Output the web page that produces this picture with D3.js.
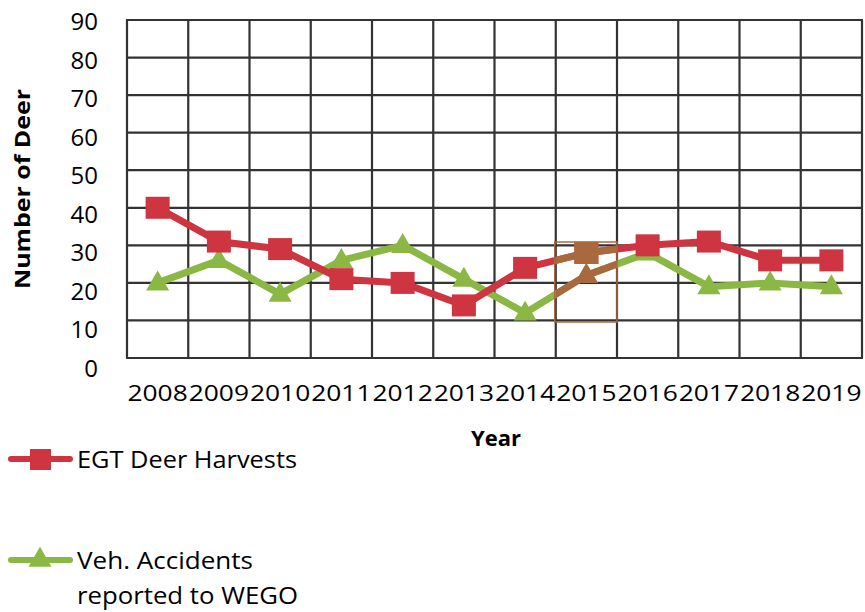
<!DOCTYPE html>
<html><head><meta charset="utf-8">
<script src="https://cdn.jsdelivr.net/npm/d3@7"></script>
<style>body{margin:0;background:#fff}</style>
</head><body>
<script>
const years = ["2008","2009","2010","2011","2012","2013","2014","2015","2016","2017","2018","2019"];
const harvests = [40, 31, 29, 21, 20, 14, 24, 28, 30, 31, 26, 26];
const accidents = [20, 26, 17, 26, 30, 21, 12, 22, 28, 19, 20, 19];
const yTicks = [0,10,20,30,40,50,60,70,80,90];
const seriesNames = ["EGT Deer Harvests", "Veh. Accidents", "reported to WEGO"];

const W = 865, H = 612;
const svg = d3.select("body").append("svg").attr("width", W).attr("height", H);
const font = "'Open Sans', sans-serif";

const x = d3.scaleBand().domain(years).range([127, 862]);
const y = d3.scaleLinear().domain([0, 90]).range([358, 20]);
const yLab = d3.scaleLinear().domain([0, 90]).range([377, 30]);
const cx = d => x(d) + x.bandwidth() / 2;

const red = "#cf3441", green = "#8bb845", grid = "#333333";

// grid
const g = svg.append("g");
g.selectAll("line.h").data(yTicks).enter().append("line")
  .attr("x1", 126).attr("x2", 863).attr("y1", d => y(d)).attr("y2", d => y(d))
  .attr("stroke", grid).attr("stroke-width", 2.2);
const vb = years.map(d => x(d)).concat([x.range()[1]]);
g.selectAll("line.v").data(vb).enter().append("line")
  .attr("x1", d => d).attr("x2", d => d).attr("y1", y(90)).attr("y2", y(0))
  .attr("stroke", grid).attr("stroke-width", 2.2);

// y tick labels
svg.selectAll("text.yt").data(yTicks).enter().append("text")
  .attr("x", 98).attr("y", d => yLab(d))
  .attr("text-anchor", "end").attr("font-family", font).attr("font-size", 24)
  .attr("fill", "#000").text(d => d);

// x tick labels
svg.selectAll("text.xt").data(years).enter().append("text")
  .attr("x", d => cx(d)).attr("y", 401).attr("text-anchor", "middle")
  .attr("font-family", font).attr("font-size", 22)
  .attr("textLength", x.bandwidth() - 1).attr("lengthAdjust", "spacingAndGlyphs")
  .text(d => d);

// axis titles
svg.append("text").attr("transform", "translate(30,189) rotate(-90)")
  .attr("text-anchor", "middle").attr("font-family", font).attr("font-weight", "bold")
  .attr("font-size", 22).attr("textLength", 200).attr("lengthAdjust", "spacingAndGlyphs")
  .text("Number of Deer");
svg.append("text").attr("x", 496).attr("y", 446).attr("text-anchor", "middle")
  .attr("font-family", font).attr("font-weight", "bold").attr("font-size", 22).text("Year");

const line = d3.line().x((d, i) => cx(years[i])).y(d => y(d));
const tri = d3.symbol().type(d3.symbolTriangle).size(230);

function drawSeries(parent, data, color, shape, colorOverride) {
  const c = colorOverride || color;
  parent.append("path").datum(data).attr("d", line).attr("fill", "none")
    .attr("stroke", c).attr("stroke-width", 7).attr("stroke-linejoin", "round");
  if (shape === "square") {
    parent.selectAll(null).data(data).enter().append("rect")
      .attr("x", (d, i) => cx(years[i]) - 12).attr("y", d => y(d) - 11)
      .attr("width", 24).attr("height", 22).attr("fill", c);
  } else {
    parent.selectAll(null).data(data).enter().append("path")
      .attr("d", tri).attr("transform", (d, i) => `translate(${cx(years[i])},${y(d) + 1})`)
      .attr("fill", c);
  }
}

const plot = svg.append("g");
drawSeries(plot, accidents, green, "tri");
drawSeries(plot, harvests, red, "square");

// brownish highlight artifact over 2015 column
const clip = svg.append("defs").append("clipPath").attr("id", "hl");
const hx0 = x("2015"), hx1 = x("2015") + x.bandwidth();
clip.append("rect").attr("x", hx0).attr("y", 242).attr("width", hx1 - hx0).attr("height", 80);
const hl = svg.append("g").attr("clip-path", "url(#hl)");
drawSeries(hl, accidents, green, "tri", "#a9693f");
drawSeries(hl, harvests, red, "square", "#a9693f");
svg.append("rect").attr("x", hx0 - 1).attr("y", 242).attr("width", hx1 - hx0 + 1).attr("height", 80)
  .attr("fill", "none").attr("stroke", "#a9693f").attr("stroke-width", 1.5);

// legend
const leg = [
  { color: red, shape: "square", y: 459, lines: [[seriesNames[0], 220]] },
  { color: green, shape: "tri", y: 560, lines: [[seriesNames[1], 176], [seriesNames[2], 221]] }
];
leg.forEach(l => {
  svg.append("line").attr("x1", 11).attr("x2", 70).attr("y1", l.y).attr("y2", l.y)
    .attr("stroke", l.color).attr("stroke-width", 6).attr("stroke-linecap", "round");
  if (l.shape === "square") {
    svg.append("rect").attr("x", 30).attr("y", l.y - 10).attr("width", 21).attr("height", 21).attr("fill", l.color);
  } else {
    svg.append("path").attr("d", tri).attr("transform", `translate(40,${l.y})`).attr("fill", l.color);
  }
  l.lines.forEach((t, k) => {
    svg.append("text").attr("x", 77).attr("y", l.y + 9 + k * 35)
      .attr("font-family", font).attr("font-size", 24).attr("fill", "#000")
      .attr("textLength", t[1]).attr("lengthAdjust", "spacingAndGlyphs").text(t[0]);
  });
});
</script>
</body></html>
